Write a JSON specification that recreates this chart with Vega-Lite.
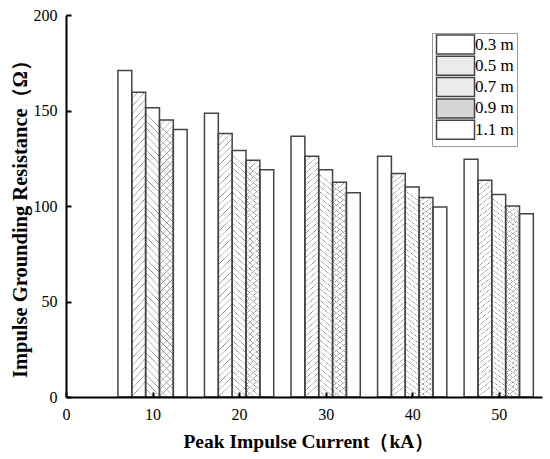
{
"$schema":"https://vega.github.io/schema/vega-lite/v6.json",
"width":476,"height":382,
"autosize":{"type":"none"},
"padding":{"left":66,"top":15,"right":8,"bottom":62},
"background":"white",
"config":{"view":{"stroke":null},"font":"Liberation Serif"},
"data":{"values":[
{"current":10,"series":"0.3 m","value":171},
{"current":10,"series":"0.5 m","value":159.5},
{"current":10,"series":"0.7 m","value":151.5},
{"current":10,"series":"0.9 m","value":145},
{"current":10,"series":"1.1 m","value":140},
{"current":20,"series":"0.3 m","value":148.5},
{"current":20,"series":"0.5 m","value":138},
{"current":20,"series":"0.7 m","value":129},
{"current":20,"series":"0.9 m","value":124},
{"current":20,"series":"1.1 m","value":119},
{"current":30,"series":"0.3 m","value":136.5},
{"current":30,"series":"0.5 m","value":126},
{"current":30,"series":"0.7 m","value":119},
{"current":30,"series":"0.9 m","value":112.5},
{"current":30,"series":"1.1 m","value":107},
{"current":40,"series":"0.3 m","value":126},
{"current":40,"series":"0.5 m","value":117},
{"current":40,"series":"0.7 m","value":110},
{"current":40,"series":"0.9 m","value":104.5},
{"current":40,"series":"1.1 m","value":99.5},
{"current":50,"series":"0.3 m","value":124.5},
{"current":50,"series":"0.5 m","value":113.5},
{"current":50,"series":"0.7 m","value":106},
{"current":50,"series":"0.9 m","value":100},
{"current":50,"series":"1.1 m","value":96}
]},
"resolve":{"scale":{"x":"independent"}},
"layer":[
{
"encoding":{
"x":{"field":"current","type":"ordinal","scale":{"domain":[10,20,30,40,50],"paddingInner":0,"paddingOuter":0.25,"align":1},"axis":null},
"xOffset":{"field":"series","type":"nominal","scale":{"domain":["0.3 m","0.5 m","0.7 m","0.9 m","1.1 m"],"paddingInner":0,"paddingOuter":0.625}},
"y":{"field":"value","type":"quantitative","scale":{"domain":[0,200],"nice":false},
"axis":{"values":[0,50,100,150,200],"grid":false,"zindex":1,"tickSize":-5,"tickWidth":2,"tickColor":"black","domainColor":"black","domainWidth":2,"labelFont":"Liberation Serif","labelFontSize":16,"labelColor":"black","labelPadding":14,"title":"Impulse Grounding Resistance（Ω）","titleFont":"Liberation Serif","titleFontSize":20.5,"titleFontWeight":"bold","titleColor":"black","titleX":-45.5,"titleY":198.5,"titleBaseline":"middle","titleAlign":"center","titleAngle":-90}}
},
"layer":[
{
"mark":{"type":"bar","strokeWidth":0},
"encoding":{
"fill":{"field":"series","type":"nominal","scale":{"domain":["0.3 m","0.5 m","0.7 m","0.9 m","1.1 m"],"range":["#ffffff","#ebebeb","#ebebeb","#d6d6d6","#ffffff"]},
"legend":{"title":null,"orient":"none","legendX":366,"legendY":18,"symbolType":"M-1,-1.357H4.43V1.357H-1Z","symbolSize":196,"symbolStrokeColor":"#444","symbolStrokeWidth":1.5,"labelFont":"Liberation Serif","labelFontSize":17,"labelColor":"black","labelOffset":23,"rowPadding":-3.7,"padding":3,"strokeColor":"#999","fillColor":"white"}}
}
},
{
"transform":[{"filter":"datum.series === '0.5 m' || datum.series === '0.7 m' || datum.series === '0.9 m'"}],
"mark":{"type":"bar","strokeWidth":0,"fill":"#ffffff"}
},
{
"transform":[{"filter":"datum.series === '0.5 m' || datum.series === '0.9 m'"}],
"mark":{"type":"bar","strokeWidth":0,"fill":{"gradient":"linear","x1":0,"y1":0,"x2":0.05,"y2":1,"stops":[{"offset":0,"color":"rgba(255,255,255,0)"},{"offset":0.0175,"color":"rgba(255,255,255,0)"},{"offset":0.02125,"color":"#808080"},{"offset":0.025,"color":"rgba(255,255,255,0)"},{"offset":0.0425,"color":"rgba(255,255,255,0)"},{"offset":0.04625,"color":"#808080"},{"offset":0.05,"color":"rgba(255,255,255,0)"},{"offset":0.0675,"color":"rgba(255,255,255,0)"},{"offset":0.07125,"color":"#808080"},{"offset":0.075,"color":"rgba(255,255,255,0)"},{"offset":0.0925,"color":"rgba(255,255,255,0)"},{"offset":0.09625,"color":"#808080"},{"offset":0.1,"color":"rgba(255,255,255,0)"},{"offset":0.1175,"color":"rgba(255,255,255,0)"},{"offset":0.12125,"color":"#808080"},{"offset":0.125,"color":"rgba(255,255,255,0)"},{"offset":0.1425,"color":"rgba(255,255,255,0)"},{"offset":0.14625,"color":"#808080"},{"offset":0.15,"color":"rgba(255,255,255,0)"},{"offset":0.1675,"color":"rgba(255,255,255,0)"},{"offset":0.17125,"color":"#808080"},{"offset":0.175,"color":"rgba(255,255,255,0)"},{"offset":0.1925,"color":"rgba(255,255,255,0)"},{"offset":0.19625,"color":"#808080"},{"offset":0.2,"color":"rgba(255,255,255,0)"},{"offset":0.2175,"color":"rgba(255,255,255,0)"},{"offset":0.22125,"color":"#808080"},{"offset":0.225,"color":"rgba(255,255,255,0)"},{"offset":0.2425,"color":"rgba(255,255,255,0)"},{"offset":0.24625,"color":"#808080"},{"offset":0.25,"color":"rgba(255,255,255,0)"},{"offset":0.2675,"color":"rgba(255,255,255,0)"},{"offset":0.27125,"color":"#808080"},{"offset":0.275,"color":"rgba(255,255,255,0)"},{"offset":0.2925,"color":"rgba(255,255,255,0)"},{"offset":0.29625,"color":"#808080"},{"offset":0.3,"color":"rgba(255,255,255,0)"},{"offset":0.3175,"color":"rgba(255,255,255,0)"},{"offset":0.32125,"color":"#808080"},{"offset":0.325,"color":"rgba(255,255,255,0)"},{"offset":0.3425,"color":"rgba(255,255,255,0)"},{"offset":0.34625,"color":"#808080"},{"offset":0.35,"color":"rgba(255,255,255,0)"},{"offset":0.3675,"color":"rgba(255,255,255,0)"},{"offset":0.37125,"color":"#808080"},{"offset":0.375,"color":"rgba(255,255,255,0)"},{"offset":0.3925,"color":"rgba(255,255,255,0)"},{"offset":0.39625,"color":"#808080"},{"offset":0.4,"color":"rgba(255,255,255,0)"},{"offset":0.4175,"color":"rgba(255,255,255,0)"},{"offset":0.42125,"color":"#808080"},{"offset":0.425,"color":"rgba(255,255,255,0)"},{"offset":0.4425,"color":"rgba(255,255,255,0)"},{"offset":0.44625,"color":"#808080"},{"offset":0.45,"color":"rgba(255,255,255,0)"},{"offset":0.4675,"color":"rgba(255,255,255,0)"},{"offset":0.47125,"color":"#808080"},{"offset":0.475,"color":"rgba(255,255,255,0)"},{"offset":0.4925,"color":"rgba(255,255,255,0)"},{"offset":0.49625,"color":"#808080"},{"offset":0.5,"color":"rgba(255,255,255,0)"},{"offset":0.5175,"color":"rgba(255,255,255,0)"},{"offset":0.52125,"color":"#808080"},{"offset":0.525,"color":"rgba(255,255,255,0)"},{"offset":0.5425,"color":"rgba(255,255,255,0)"},{"offset":0.54625,"color":"#808080"},{"offset":0.55,"color":"rgba(255,255,255,0)"},{"offset":0.5675,"color":"rgba(255,255,255,0)"},{"offset":0.57125,"color":"#808080"},{"offset":0.575,"color":"rgba(255,255,255,0)"},{"offset":0.5925,"color":"rgba(255,255,255,0)"},{"offset":0.59625,"color":"#808080"},{"offset":0.6,"color":"rgba(255,255,255,0)"},{"offset":0.6175,"color":"rgba(255,255,255,0)"},{"offset":0.62125,"color":"#808080"},{"offset":0.625,"color":"rgba(255,255,255,0)"},{"offset":0.6425,"color":"rgba(255,255,255,0)"},{"offset":0.64625,"color":"#808080"},{"offset":0.65,"color":"rgba(255,255,255,0)"},{"offset":0.6675,"color":"rgba(255,255,255,0)"},{"offset":0.67125,"color":"#808080"},{"offset":0.675,"color":"rgba(255,255,255,0)"},{"offset":0.6925,"color":"rgba(255,255,255,0)"},{"offset":0.69625,"color":"#808080"},{"offset":0.7,"color":"rgba(255,255,255,0)"},{"offset":0.7175,"color":"rgba(255,255,255,0)"},{"offset":0.72125,"color":"#808080"},{"offset":0.725,"color":"rgba(255,255,255,0)"},{"offset":0.7425,"color":"rgba(255,255,255,0)"},{"offset":0.74625,"color":"#808080"},{"offset":0.75,"color":"rgba(255,255,255,0)"},{"offset":0.7675,"color":"rgba(255,255,255,0)"},{"offset":0.77125,"color":"#808080"},{"offset":0.775,"color":"rgba(255,255,255,0)"},{"offset":0.7925,"color":"rgba(255,255,255,0)"},{"offset":0.79625,"color":"#808080"},{"offset":0.8,"color":"rgba(255,255,255,0)"},{"offset":0.8175,"color":"rgba(255,255,255,0)"},{"offset":0.82125,"color":"#808080"},{"offset":0.825,"color":"rgba(255,255,255,0)"},{"offset":0.8425,"color":"rgba(255,255,255,0)"},{"offset":0.84625,"color":"#808080"},{"offset":0.85,"color":"rgba(255,255,255,0)"},{"offset":0.8675,"color":"rgba(255,255,255,0)"},{"offset":0.87125,"color":"#808080"},{"offset":0.875,"color":"rgba(255,255,255,0)"},{"offset":0.8925,"color":"rgba(255,255,255,0)"},{"offset":0.89625,"color":"#808080"},{"offset":0.9,"color":"rgba(255,255,255,0)"},{"offset":0.9175,"color":"rgba(255,255,255,0)"},{"offset":0.92125,"color":"#808080"},{"offset":0.925,"color":"rgba(255,255,255,0)"},{"offset":0.9425,"color":"rgba(255,255,255,0)"},{"offset":0.94625,"color":"#808080"},{"offset":0.95,"color":"rgba(255,255,255,0)"},{"offset":0.9675,"color":"rgba(255,255,255,0)"},{"offset":0.97125,"color":"#808080"},{"offset":0.975,"color":"rgba(255,255,255,0)"},{"offset":0.9925,"color":"rgba(255,255,255,0)"},{"offset":0.99625,"color":"#808080"},{"offset":1,"color":"rgba(255,255,255,0)"}]}}
},
{
"transform":[{"filter":"datum.series === '0.7 m' || datum.series === '0.9 m'"}],
"mark":{"type":"bar","strokeWidth":0,"fill":{"gradient":"linear","x1":0.05,"y1":0,"x2":0,"y2":1,"stops":[{"offset":0,"color":"rgba(255,255,255,0)"},{"offset":0.0175,"color":"rgba(255,255,255,0)"},{"offset":0.02125,"color":"#808080"},{"offset":0.025,"color":"rgba(255,255,255,0)"},{"offset":0.0425,"color":"rgba(255,255,255,0)"},{"offset":0.04625,"color":"#808080"},{"offset":0.05,"color":"rgba(255,255,255,0)"},{"offset":0.0675,"color":"rgba(255,255,255,0)"},{"offset":0.07125,"color":"#808080"},{"offset":0.075,"color":"rgba(255,255,255,0)"},{"offset":0.0925,"color":"rgba(255,255,255,0)"},{"offset":0.09625,"color":"#808080"},{"offset":0.1,"color":"rgba(255,255,255,0)"},{"offset":0.1175,"color":"rgba(255,255,255,0)"},{"offset":0.12125,"color":"#808080"},{"offset":0.125,"color":"rgba(255,255,255,0)"},{"offset":0.1425,"color":"rgba(255,255,255,0)"},{"offset":0.14625,"color":"#808080"},{"offset":0.15,"color":"rgba(255,255,255,0)"},{"offset":0.1675,"color":"rgba(255,255,255,0)"},{"offset":0.17125,"color":"#808080"},{"offset":0.175,"color":"rgba(255,255,255,0)"},{"offset":0.1925,"color":"rgba(255,255,255,0)"},{"offset":0.19625,"color":"#808080"},{"offset":0.2,"color":"rgba(255,255,255,0)"},{"offset":0.2175,"color":"rgba(255,255,255,0)"},{"offset":0.22125,"color":"#808080"},{"offset":0.225,"color":"rgba(255,255,255,0)"},{"offset":0.2425,"color":"rgba(255,255,255,0)"},{"offset":0.24625,"color":"#808080"},{"offset":0.25,"color":"rgba(255,255,255,0)"},{"offset":0.2675,"color":"rgba(255,255,255,0)"},{"offset":0.27125,"color":"#808080"},{"offset":0.275,"color":"rgba(255,255,255,0)"},{"offset":0.2925,"color":"rgba(255,255,255,0)"},{"offset":0.29625,"color":"#808080"},{"offset":0.3,"color":"rgba(255,255,255,0)"},{"offset":0.3175,"color":"rgba(255,255,255,0)"},{"offset":0.32125,"color":"#808080"},{"offset":0.325,"color":"rgba(255,255,255,0)"},{"offset":0.3425,"color":"rgba(255,255,255,0)"},{"offset":0.34625,"color":"#808080"},{"offset":0.35,"color":"rgba(255,255,255,0)"},{"offset":0.3675,"color":"rgba(255,255,255,0)"},{"offset":0.37125,"color":"#808080"},{"offset":0.375,"color":"rgba(255,255,255,0)"},{"offset":0.3925,"color":"rgba(255,255,255,0)"},{"offset":0.39625,"color":"#808080"},{"offset":0.4,"color":"rgba(255,255,255,0)"},{"offset":0.4175,"color":"rgba(255,255,255,0)"},{"offset":0.42125,"color":"#808080"},{"offset":0.425,"color":"rgba(255,255,255,0)"},{"offset":0.4425,"color":"rgba(255,255,255,0)"},{"offset":0.44625,"color":"#808080"},{"offset":0.45,"color":"rgba(255,255,255,0)"},{"offset":0.4675,"color":"rgba(255,255,255,0)"},{"offset":0.47125,"color":"#808080"},{"offset":0.475,"color":"rgba(255,255,255,0)"},{"offset":0.4925,"color":"rgba(255,255,255,0)"},{"offset":0.49625,"color":"#808080"},{"offset":0.5,"color":"rgba(255,255,255,0)"},{"offset":0.5175,"color":"rgba(255,255,255,0)"},{"offset":0.52125,"color":"#808080"},{"offset":0.525,"color":"rgba(255,255,255,0)"},{"offset":0.5425,"color":"rgba(255,255,255,0)"},{"offset":0.54625,"color":"#808080"},{"offset":0.55,"color":"rgba(255,255,255,0)"},{"offset":0.5675,"color":"rgba(255,255,255,0)"},{"offset":0.57125,"color":"#808080"},{"offset":0.575,"color":"rgba(255,255,255,0)"},{"offset":0.5925,"color":"rgba(255,255,255,0)"},{"offset":0.59625,"color":"#808080"},{"offset":0.6,"color":"rgba(255,255,255,0)"},{"offset":0.6175,"color":"rgba(255,255,255,0)"},{"offset":0.62125,"color":"#808080"},{"offset":0.625,"color":"rgba(255,255,255,0)"},{"offset":0.6425,"color":"rgba(255,255,255,0)"},{"offset":0.64625,"color":"#808080"},{"offset":0.65,"color":"rgba(255,255,255,0)"},{"offset":0.6675,"color":"rgba(255,255,255,0)"},{"offset":0.67125,"color":"#808080"},{"offset":0.675,"color":"rgba(255,255,255,0)"},{"offset":0.6925,"color":"rgba(255,255,255,0)"},{"offset":0.69625,"color":"#808080"},{"offset":0.7,"color":"rgba(255,255,255,0)"},{"offset":0.7175,"color":"rgba(255,255,255,0)"},{"offset":0.72125,"color":"#808080"},{"offset":0.725,"color":"rgba(255,255,255,0)"},{"offset":0.7425,"color":"rgba(255,255,255,0)"},{"offset":0.74625,"color":"#808080"},{"offset":0.75,"color":"rgba(255,255,255,0)"},{"offset":0.7675,"color":"rgba(255,255,255,0)"},{"offset":0.77125,"color":"#808080"},{"offset":0.775,"color":"rgba(255,255,255,0)"},{"offset":0.7925,"color":"rgba(255,255,255,0)"},{"offset":0.79625,"color":"#808080"},{"offset":0.8,"color":"rgba(255,255,255,0)"},{"offset":0.8175,"color":"rgba(255,255,255,0)"},{"offset":0.82125,"color":"#808080"},{"offset":0.825,"color":"rgba(255,255,255,0)"},{"offset":0.8425,"color":"rgba(255,255,255,0)"},{"offset":0.84625,"color":"#808080"},{"offset":0.85,"color":"rgba(255,255,255,0)"},{"offset":0.8675,"color":"rgba(255,255,255,0)"},{"offset":0.87125,"color":"#808080"},{"offset":0.875,"color":"rgba(255,255,255,0)"},{"offset":0.8925,"color":"rgba(255,255,255,0)"},{"offset":0.89625,"color":"#808080"},{"offset":0.9,"color":"rgba(255,255,255,0)"},{"offset":0.9175,"color":"rgba(255,255,255,0)"},{"offset":0.92125,"color":"#808080"},{"offset":0.925,"color":"rgba(255,255,255,0)"},{"offset":0.9425,"color":"rgba(255,255,255,0)"},{"offset":0.94625,"color":"#808080"},{"offset":0.95,"color":"rgba(255,255,255,0)"},{"offset":0.9675,"color":"rgba(255,255,255,0)"},{"offset":0.97125,"color":"#808080"},{"offset":0.975,"color":"rgba(255,255,255,0)"},{"offset":0.9925,"color":"rgba(255,255,255,0)"},{"offset":0.99625,"color":"#808080"},{"offset":1,"color":"rgba(255,255,255,0)"}]}}
},
{
"mark":{"type":"bar","fill":"#ffffff","fillOpacity":0,"stroke":"#444","strokeWidth":1.5}
}
]
},
{
"mark":{"type":"rule","opacity":0},
"encoding":{
"x":{"field":"current","type":"quantitative","scale":{"domain":[0,55],"nice":false},
"axis":{"values":[0,10,20,30,40,50],"grid":false,"zindex":1,"tickSize":-5,"tickWidth":2,"tickColor":"black","domainColor":"black","domainWidth":2,"labelFont":"Liberation Serif","labelFontSize":16,"labelColor":"black","labelPadding":14,"labelFlush":false,"title":"Peak Impulse Current（kA）","titleFont":"Liberation Serif","titleFontSize":19.5,"titleFontWeight":"bold","titleColor":"black","titleX":242.4,"titleY":50,"titleBaseline":"alphabetic"}}
}
}
]
}
